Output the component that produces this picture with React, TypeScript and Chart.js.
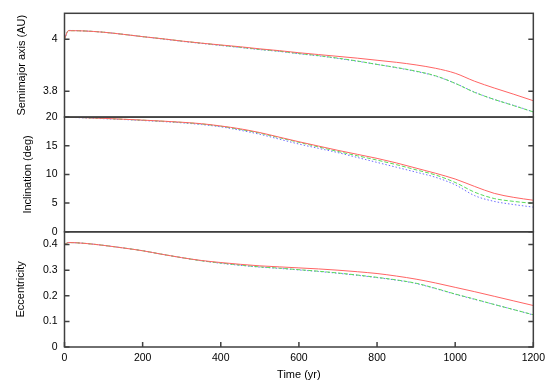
import React, { useEffect, useRef } from "react";
import { Chart, registerables } from "chart.js";

Chart.register(...registerables);

// ---- data ----
const TIME = [0, 10, 50, 100, 150, 200, 250, 300, 350, 400, 450, 500, 550, 600, 650, 700, 750, 800, 850, 900, 950, 1000, 1050, 1100, 1150, 1200];

const SEMI_RED = [4.0, 4.033, 4.032, 4.027, 4.019, 4.01, 4.002, 3.993, 3.985, 3.978, 3.971, 3.963, 3.956, 3.948, 3.941, 3.934, 3.927, 3.919, 3.911, 3.901, 3.888, 3.869, 3.838, 3.812, 3.788, 3.763];
const SEMI_GREEN = [4.0, 4.033, 4.032, 4.027, 4.019, 4.01, 4.002, 3.993, 3.985, 3.977, 3.969, 3.961, 3.954, 3.945, 3.937, 3.927, 3.916, 3.903, 3.891, 3.877, 3.859, 3.83, 3.795, 3.768, 3.744, 3.72];
const SEMI_BLUE = [4.0, 4.034, 4.032, 4.027, 4.019, 4.01, 4.001, 3.992, 3.984, 3.976, 3.968, 3.96, 3.953, 3.944, 3.936, 3.926, 3.915, 3.903, 3.89, 3.876, 3.858, 3.83, 3.796, 3.768, 3.745, 3.72];

const INC_RED = [20, 19.98, 19.9, 19.78, 19.63, 19.47, 19.3, 19.1, 18.85, 18.45, 17.95, 17.3, 16.5, 15.7, 14.95, 14.2, 13.5, 12.8, 12.0, 11.1, 10.2, 9.2, 7.9, 6.7, 6.0, 5.5];
const INC_GREEN = [20, 19.98, 19.9, 19.77, 19.62, 19.46, 19.28, 19.07, 18.8, 18.4, 17.85, 17.2, 16.4, 15.6, 14.8, 14.0, 13.25, 12.5, 11.7, 10.8, 9.9, 8.6, 6.9, 5.8, 5.3, 4.95];
const INC_BLUE = [20, 19.97, 19.86, 19.72, 19.58, 19.4, 19.22, 19.0, 18.7, 18.3, 17.7, 17.0, 16.15, 15.3, 14.55, 13.8, 12.95, 12.1, 11.25, 10.4, 9.5, 8.2, 6.3, 5.3, 4.75, 4.3];

const ECC_RED = [0.4, 0.408, 0.405, 0.397, 0.387, 0.376, 0.362, 0.349, 0.338, 0.33, 0.323, 0.317, 0.313, 0.309, 0.305, 0.3, 0.294, 0.287, 0.277, 0.265, 0.25, 0.233, 0.216, 0.198, 0.18, 0.162];
const ECC_GREEN = [0.4, 0.408, 0.405, 0.397, 0.387, 0.376, 0.362, 0.349, 0.337, 0.328, 0.32, 0.313, 0.308, 0.302, 0.296, 0.289, 0.281, 0.272, 0.262, 0.249, 0.229, 0.207, 0.187, 0.166, 0.146, 0.126];
const ECC_BLUE = [0.4, 0.408, 0.405, 0.397, 0.387, 0.376, 0.362, 0.349, 0.337, 0.327, 0.319, 0.312, 0.307, 0.301, 0.295, 0.288, 0.28, 0.271, 0.261, 0.248, 0.228, 0.206, 0.186, 0.166, 0.146, 0.125];

const TIME_TICKS = [0, 200, 400, 600, 800, 1000, 1200];
const SEMI_TICKS = [3.8, 4];
const INC_TICKS = [0, 5, 10, 15, 20];
const ECC_TICKS = [0, 0.1, 0.2, 0.3, 0.4];

const RUN_NAMES = ["run 1", "run 2", "run 3"];
const RUN_COLORS = ["rgb(255,100,100)", "rgb(90,220,90)", "rgb(110,110,255)"];
const RUN_DASH: number[][] = [[], [4, 2], [1.5, 2]];

const FONT = "'Liberation Sans', Arial, Helvetica, sans-serif";
const AXIS_COLOR = "#404040";

const pts = (ys: number[]) => TIME.map((t, i) => ({ x: t, y: ys[i] }));

const fmt = (v: number) => String(Math.round(v * 100) / 100);

const framePlugin = {
  id: "panelFrames",
  afterDraw(chart: any) {
    const ctx = chart.ctx;
    const { left, right } = chart.chartArea;
    ctx.save();
    ctx.strokeStyle = AXIS_COLOR;
    ctx.lineWidth = 1.5;
    const tl = 5;
    for (const id of ["ySemi", "yInc", "yEcc"]) {
      const s = chart.scales[id];
      ctx.strokeRect(left, s.top, right - left, s.bottom - s.top);
      ctx.beginPath();
      for (const t of s.ticks) {
        const py = s.getPixelForValue(t.value);
        ctx.moveTo(left, py);
        ctx.lineTo(left + tl, py);
        ctx.moveTo(right - tl, py);
        ctx.lineTo(right, py);
      }
      ctx.stroke();
    }
    const xs = chart.scales.x;
    const bottom = chart.scales.yEcc.bottom;
    ctx.beginPath();
    for (const t of xs.ticks) {
      const px = xs.getPixelForValue(t.value);
      ctx.moveTo(px, bottom);
      ctx.lineTo(px, bottom - tl);
    }
    ctx.stroke();
    ctx.restore();
  },
};

function yScale(min: number, max: number, ticks: number[], title: string, weight: number, titlePad: number) {
  return {
    type: "linear",
    position: "left",
    stack: "panels",
    stackWeight: weight,
    min,
    max,
    afterBuildTicks: (s: any) => {
      s.ticks = ticks.map((v) => ({ value: v }));
    },
    afterFit: (s: any) => {
      s.width = 64.5;
    },
    grid: { display: false, drawTicks: false },
    border: { display: false },
    ticks: {
      padding: 7,
      color: "#000",
      font: { family: FONT, size: 10.5 },
      callback: (v: any) => fmt(Number(v)),
      autoSkip: false,
    },
    title: {
      display: true,
      text: title,
      color: "#000",
      font: { family: FONT, size: 11 },
      padding: { top: titlePad, bottom: 0 },
    },
  };
}

export default function App() {
  const ref = useRef<HTMLCanvasElement | null>(null);
  useEffect(() => {
    if (!ref.current) return;
    const mk = (id: string, arrs: number[][]) =>
      arrs.map((a, i) => ({
        label: RUN_NAMES[i] + " " + id,
        data: pts(a),
        yAxisID: id,
        borderColor: RUN_COLORS[i],
        borderDash: RUN_DASH[i],
        borderWidth: 1,
        pointRadius: 0,
        fill: false,
        cubicInterpolationMode: "monotone",
      }));
    const chart = new Chart(ref.current, {
      type: "line",
      data: {
        datasets: [
          ...mk("ySemi", [SEMI_RED, SEMI_GREEN, SEMI_BLUE]),
          ...mk("yInc", [INC_RED, INC_GREEN, INC_BLUE]),
          ...mk("yEcc", [ECC_RED, ECC_GREEN, ECC_BLUE]),
        ] as any,
      },
      options: {
        responsive: false,
        animation: false,
        devicePixelRatio: 1,
        layout: { padding: { top: 11, right: 13, bottom: 0, left: 0 } },
        plugins: { legend: { display: false }, tooltip: { enabled: false } },
        scales: {
          x: {
            type: "linear",
            position: "bottom",
            min: 0,
            max: 1200,
            afterBuildTicks: (s: any) => {
              s.ticks = TIME_TICKS.map((v) => ({ value: v }));
            },
            afterFit: (s: any) => {
              s.height = 39;
            },
            grid: { display: false, drawTicks: false },
            border: { display: false },
            ticks: {
              padding: 5,
              color: "#000",
              maxRotation: 0,
              autoSkip: false,
              font: { family: FONT, size: 10.5 },
              callback: (v: any) => fmt(Number(v)),
            },
            title: {
              display: true,
              text: "Time (yr)",
              color: "#000",
              font: { family: FONT, size: 11 },
              padding: { top: 4, bottom: 4 },
            },
          },
          yEcc: yScale(0, 0.45, ECC_TICKS, "Eccentricity", 116, 14.5),
          yInc: yScale(0, 20, INC_TICKS, "Inclination (deg)", 115.5, 21),
          ySemi: yScale(3.7, 4.1, SEMI_TICKS, "Semimajor axis (AU)", 104.5, 15),
        } as any,
      },
      plugins: [framePlugin],
    });
    return () => chart.destroy();
  }, []);
  return (
    <div style={{ position: "absolute", left: 0, top: 0, width: 550, height: 386, background: "#fff" }}>
      <canvas ref={ref} width={550} height={386} style={{ display: "block" }} />
    </div>
  );
}
